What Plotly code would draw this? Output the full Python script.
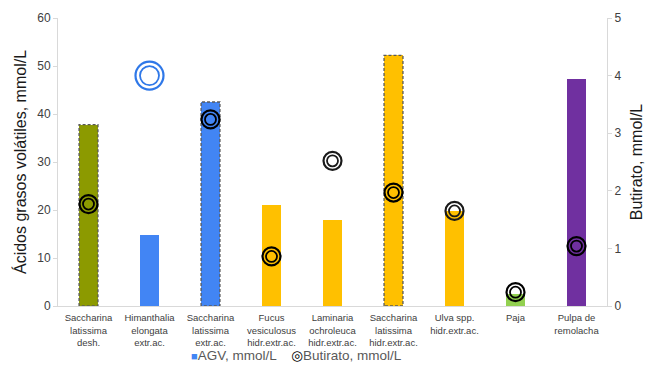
import plotly.graph_objects as go

categories = [
    "Saccharina<br>latissima<br>desh.",
    "Himanthalia<br>elongata<br>extr.ac.",
    "Saccharina<br>latissima<br>extr.ac.",
    "Fucus<br>vesiculosus<br>hidr.extr.ac.",
    "Laminaria<br>ochroleuca<br>hidr.extr.ac.",
    "Saccharina<br>latissima<br>hidr.extr.ac.",
    "Ulva spp.<br>hidr.extr.ac.",
    "Paja",
    "Pulpa de<br>remolacha",
]
agv = [37.8, 14.7, 42.5, 21.1, 18.0, 52.2, 19.8, 2.6, 47.3]
butirato = [1.77, 4.0, 3.24, 0.86, 2.52, 1.97, 1.65, 0.24, 1.04]
bar_colors = ["#8C9A00", "#4285F4", "#4285F4", "#FFC000", "#FFC000",
              "#FFC000", "#FFC000", "#92D050", "#7030A0"]
dashed = [True, False, True, False, False, True, False, False, False]
ring_colors = ["#000000", "#2F78E8", "#000000", "#000000", "#1a1a1a",
               "#000000", "#1a1a1a", "#000000", "#000000"]
legend_agv = "AGV, mmol/L"
legend_but = "Butirato, mmol/L"

xs = list(range(len(categories)))
bw = 0.31
font = "Liberation Sans, Arial, sans-serif"

fig = go.Figure()
fig.add_trace(go.Bar(x=xs, y=agv, width=bw, marker=dict(color=bar_colors, line=dict(width=0)),
                     showlegend=False, yaxis="y"))

# dashed outlines
for i, (v, d) in enumerate(zip(agv, dashed)):
    if d:
        fig.add_trace(go.Scatter(
            x=[i - bw / 2, i - bw / 2, i + bw / 2, i + bw / 2, i - bw / 2],
            y=[0, v, v, 0, 0], mode="lines",
            line=dict(color="#5a5a5a", width=1.3, dash="3px,2px"),
            showlegend=False, hoverinfo="skip", yaxis="y"))

# butirato double rings
outer_sizes = [18 if i != 1 else 28 for i in xs]
inner_sizes = [11 if i != 1 else 19 for i in xs]
fig.add_trace(go.Scatter(x=xs, y=butirato, mode="markers", yaxis="y2", showlegend=False,
                         marker=dict(symbol="circle", size=outer_sizes, color="rgba(0,0,0,0)",
                                     opacity=1, line=dict(color=ring_colors, width=2.2))))
fig.add_trace(go.Scatter(x=xs, y=butirato, mode="markers", yaxis="y2", showlegend=False,
                         marker=dict(symbol="circle", size=inner_sizes, color="rgba(0,0,0,0)",
                                     opacity=1, line=dict(color=ring_colors, width=1.8))))

fig.add_annotation(
    xref="paper", yref="paper", x=0.435, y=-0.17, xanchor="center", yanchor="middle",
    showarrow=False, font=dict(size=13.5, color="#595959", family=font),
    text=('<span style="color:#4285F4;font-size:11px">■</span>' + legend_agv +
          '    <span style="color:#000000;font-family:DejaVu Sans">◎</span>' + legend_but))

fig.update_layout(
    width=652, height=370,
    margin=dict(l=58, r=45, t=18, b=64, autoexpand=False),
    paper_bgcolor="white", plot_bgcolor="white",
    font=dict(family=font, color="#404040"),
    showlegend=False,
    xaxis=dict(range=[-0.5, 8.5], tickvals=xs, ticktext=categories, automargin=False,
               tickfont=dict(size=9.5, color="#404040"), showgrid=False,
               showline=True, linecolor="#d9d9d9", linewidth=1, ticks="", tickangle=0,
               zeroline=False, ticklabelstandoff=3),
    yaxis=dict(range=[0, 60], dtick=10, showgrid=False, showline=True, automargin=False,
               linecolor="#d9d9d9", ticks="outside", ticklen=4, tickcolor="#d9d9d9",
               tickfont=dict(size=12, color="#404040"), zeroline=False,
               title=dict(text="Ácidos grasos volátiles, mmol/L",
                          font=dict(size=16, color="#1a1a1a"), standoff=6)),
    yaxis2=dict(range=[0, 5], dtick=1, overlaying="y", side="right", showgrid=False,
                automargin=False,
                showline=True, linecolor="#d9d9d9", ticks="outside", ticklen=4,
                tickcolor="#d9d9d9", tickfont=dict(size=12, color="#404040"), zeroline=False,
                title=dict(text="Butirato, mmol/L", font=dict(size=16, color="#1a1a1a"),
                           standoff=10)),
    bargap=0,
)

fig.write_html("out.html")
